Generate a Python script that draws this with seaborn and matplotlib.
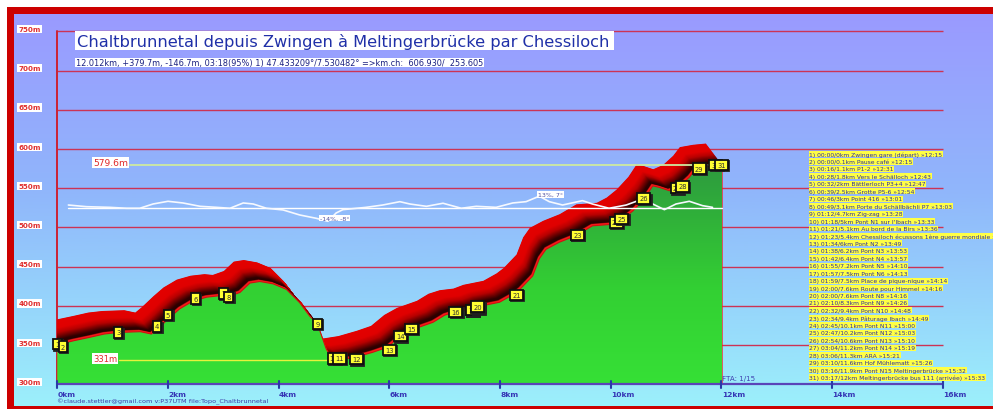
import numpy as np
import matplotlib
matplotlib.use("Agg")
import matplotlib.pyplot as plt
import seaborn as sns
from matplotlib.colors import LinearSegmentedColormap, to_rgb
from matplotlib.patches import Rectangle
from matplotlib.transforms import offset_copy

sns.set_style("white")
plt.rcParams['font.family'] = ['DejaVu Sans']

# ---------------- data ----------------
profile_km = [0.00, 0.10, 0.30, 0.60, 0.85, 1.10, 1.50, 1.70, 1.82, 2.03, 2.21, 2.45, 2.70,
              2.95, 3.10, 3.30, 3.48, 3.66, 3.90, 4.14, 4.38, 4.56, 4.70, 4.86, 4.95, 5.10,
              5.37, 5.70, 5.96, 6.20, 6.43, 6.79, 7.00, 7.20, 7.45, 7.63, 7.99, 8.23, 8.36,
              8.59, 8.71, 8.83, 9.07, 9.37, 9.67, 10.04, 10.22, 10.40, 10.61, 10.76, 10.88,
              11.06, 11.24, 11.42, 11.54, 11.78, 12.012]
profile_elev = [351, 352, 355.5, 360, 364, 366, 367, 364, 371, 385, 396, 406, 411,
                413, 412, 417, 429, 431, 428, 421, 404, 387, 377, 345, 334, 331,
                334, 340.7, 347, 361, 370, 379, 388, 392.5, 394.6, 399.4, 404.5, 414, 421,
                438, 460, 472, 481, 489.5, 502, 504, 510.7, 521, 537, 553, 551,
                546.8, 552.4, 564, 575, 578, 579.6]

slope_km = [0.2, 0.53, 0.95, 1.25, 1.49, 1.73, 2.0, 2.27, 2.58, 2.88, 3.12, 3.36, 3.54, 3.78,
            4.08, 4.38, 4.68, 4.89, 5.04, 5.16, 5.58, 5.88, 6.19, 6.37, 6.67, 6.97, 7.3, 7.57,
            7.93, 8.23, 8.47, 8.71, 8.89, 9.13, 9.49, 9.67, 9.97, 10.28, 10.58, 10.76, 10.97,
            11.18, 11.42, 11.66, 11.84]
slope_pct = [3.5, 1.7, 1, 0, 0, 4.6, 7.5, 5.7, 2.1, 1, 0, 5.7, 4.6, 0,
             -1.8, -7.2, -10.8, -14, -5, -1.5, 1, 3.5, 7.1, 4.6, 2.1, 5.4, 0, 2.1,
             1, 5.7, 7.1, 13, 7.1, 3.5, 8.2, 4.6, 0, 3.5, 10, 4.6, -1.5,
             4.6, 7.5, 2.8, 1]

wp_num = list(range(1, 32))
wp_km = [0, 0.1, 1.1, 1.8, 2, 2.5, 3, 3.1, 4.7, 5, 5.1, 5.4, 6, 6.2, 6.4, 7.2, 7.5, 7.5,
         7.6, 7.6, 8.3, 9.4, 9.4, 10.1, 10.2, 10.6, 11.2, 11.3, 11.6, 11.9, 12.0]
wp_elev = [351, 348, 366, 373.6, 388.5, 409.3, 415.7, 411.2, 376.8, 333, 333, 332, 343.6,
           361.3, 370.4, 392.5, 394.6, 394.6, 397, 399, 414, 490.5, 490.5, 506.3, 510.7,
           536.9, 550, 552.2, 575.1, 579.8, 579.8]

legend_lines = [
    "1) 00:00/0km Zwingen gare (départ) »12:15",
    "2) 00:00/0.1km Pause café »12:15",
    "3) 00:16/1.1km P1-2 »12:31",
    "4) 00:28/1.8km Vers le Schälloch »12:43",
    "5) 00:32/2km Bättlerloch P3+4 »12:47",
    "6) 00:39/2.5km Grotte P5-6 »12:54",
    "7) 00:46/3km Point 416 »13:01",
    "8) 00:49/3.1km Porte du Schällbächli P7 »13:03",
    "9) 01:12/4.7km Zig-zag »13:28",
    "10) 01:18/5km Pont N1 sur l'Ibach »13:33",
    "11) 01:21/5.1km Au bord de la Birs »13:36",
    "12) 01:23/5.4km Chessiloch écussons 1ère guerre mondiale »13:38",
    "13) 01:34/6km Pont N2 »13:49",
    "14) 01:38/6.2km Pont N3 »13:53",
    "15) 01:42/6.4km Pont N4 »13:57",
    "16) 01:55/7.2km Pont N5 »14:10",
    "17) 01:57/7.5km Pont N6 »14:13",
    "18) 01:59/7.5km Place de pique-nique »14:14",
    "19) 02:00/7.6km Route pour Himmel »14:16",
    "20) 02:00/7.6km Pont N8 »14:16",
    "21) 02:10/8.3km Pont N9 »14:26",
    "22) 02:32/9.4km Pont N10 »14:48",
    "23) 02:34/9.4km Pâturage Ibach »14:49",
    "24) 02:45/10.1km Pont N11 »15:00",
    "25) 02:47/10.2km Pont N12 »15:03",
    "26) 02:54/10.6km Pont N13 »15:10",
    "27) 03:04/11.2km Pont N14 »15:19",
    "28) 03:06/11.3km ARA »15:21",
    "29) 03:10/11.6km Hof Mühlematt »15:26",
    "30) 03:16/11.9km Pont N15 Meltingerbrücke »15:32",
    "31) 03:17/12km Meltingerbrücke bus 111 (arrivée) »15:33",
]

y_ticks = [300, 350, 400, 450, 500, 550, 600, 650, 700, 750]
y_tick_labels = [f"{v}m" for v in y_ticks]
x_ticks = [0, 2, 4, 6, 8, 10, 12, 14, 16]
x_tick_labels = [f"{v}km" for v in x_ticks]

title = "Chaltbrunnetal depuis Zwingen à Meltingerbrücke par Chessiloch"
subtitle = "12.012km, +379.7m, -146.7m, 03:18(95%) 1) 47.433209°/7.530482° =>km.ch:  606.930/  253.605"
credit = "©claude.stettler@gmail.com v:P37UTM file:Topo_Chaltbrunnetal"
max_label = "579.6m"
min_label = "331m"

# ---------------- geometry ----------------
W, H = 993, 410
X0, PXKM = 57.3, 55.34
Y600, PXM = 150.0, 0.784


def kx(k):
    return X0 + k * PXKM


def my(m):
    return Y600 + (600 - m) * PXM


fig = plt.figure(figsize=(W / 100, H / 100), dpi=100)
fig.patch.set_facecolor('white')

# background gradient + red frame
bg = fig.add_axes([0, 0, 1, 1], zorder=0)
ys = np.linspace(0, 1, 300)[:, None]
c_top = np.array(to_rgb('#9a9aff'))
c_mid = np.array(to_rgb('#90b6fb'))
c_bot = np.array(to_rgb('#9cf0fb'))
grad = np.where(ys < 0.45, c_top + (c_mid - c_top) * (ys / 0.45),
                c_mid + (c_bot - c_mid) * ((ys - 0.45) / 0.55))
bg.imshow(grad[:, None, :], extent=[14, W, 407, 15], aspect='auto', interpolation='bilinear')
bg.set_xlim(0, W)
bg.set_ylim(H, 0)
bg.axis('off')
red = '#cc0000'
bg.add_patch(Rectangle((7, 8), W - 7, 7, fc=red, ec='none'))
bg.add_patch(Rectangle((7, 8), 7, H - 8, fc=red, ec='none'))
bg.add_patch(Rectangle((7, 407), W - 7, 3, fc=red, ec='none'))

# main data axes
ax = fig.add_axes([X0 / W, (H - my(300)) / H, (W - X0) / W, my(300) / H], zorder=1)
ax.patch.set_alpha(0)
XMAX = (W - X0) / PXKM
YMAX = 300 + my(300) / PXM

# grid
for v in y_ticks[1:]:
    ax.plot([0, 16], [v, v], color='#cc3355', lw=1.0, zorder=1, solid_capstyle='butt')
ax.plot([0, 0], [300, 750], color='#cc2233', lw=1.4, zorder=1, clip_on=False)

km = np.array(profile_km)
el = np.array(profile_elev)

# extruded red ribbon
band_cmap = LinearSegmentedColormap.from_list(
    'band', [(0, '#ff1a1a'), (0.09, '#ff1a1a'), (0.13, '#2a0000'), (0.22, '#300000'),
             (0.5, '#b80000'), (0.68, '#e00000'), (1, '#e30000')])
N = 60
dx, dy = 0.30, 28.0
for i in range(N, -1, -1):
    t = i / N
    ax.fill_between(km - t * dx, el + t * dy, 300, color=band_cmap(t), lw=0, zorder=2)

# green gradient fill
poly = ax.fill_between(km, el, 300, facecolor='none', edgecolor='none', zorder=3)
ge = np.linspace(300, 600, 200)
gstops_e = [300, 420, 600]
gstops_c = [to_rgb('#36e036'), to_rgb('#33d033'), to_rgb('#2d9340')]
gcol = np.stack([np.interp(ge, gstops_e, [c[j] for c in gstops_c]) for j in range(3)], axis=1)
gimg = ax.imshow(gcol[:, None, :], extent=[0, km[-1], 300, 600], origin='lower',
                 aspect='auto', zorder=4, interpolation='bilinear')
gimg.set_clip_path(poly.get_paths()[0], transform=ax.transData)

sns.lineplot(x=km, y=el, ax=ax, color='#d01010', lw=0.8, zorder=4.5, sort=False, estimator=None)

# min / max lines
imax, imin = int(np.argmax(el)), int(np.argmin(el))
ax.plot([(129.5 - X0) / PXKM, km[imax]], [el[imax]] * 2, color='#cdeaa0', lw=1.3, zorder=5)
ax.plot([(118.5 - X0) / PXKM, km[imin]], [el[imin]] * 2, color='#e6f23c', lw=1.0, zorder=5)

# slope curve
base, sc = 524.4, 1.186
ax.plot([0.2, km[-1]], [base, base], color='white', lw=1.0, zorder=6)
sns.lineplot(x=slope_km, y=base + np.array(slope_pct) * sc, ax=ax, color='#f6f9ff', lw=1.2,
             zorder=6, sort=False, estimator=None)
ax.text(4.75, 512, "-14%, -8°", fontsize=4.5, color='#5050a0', va='center', ha='left',
        bbox=dict(fc='white', ec='none', pad=0.6), zorder=7)
ax.text(8.69, 541.7, "13%, 7°", fontsize=4.5, color='#5050a0', va='center', ha='left',
        bbox=dict(fc='white', ec='none', pad=0.6), zorder=7)

# waypoint boxes
shadow_tr = offset_copy(ax.transData, fig=fig, x=1.3, y=-1.3, units='dots')
for n, k, e in zip(wp_num, wp_km, wp_elev):
    z = 8 + n * 0.02
    ax.text(k, e, str(n), transform=shadow_tr, ha='center', va='center', fontsize=4.9,
            color='#202020', bbox=dict(boxstyle='square,pad=0.32', fc='#202020', ec='#202020', lw=1.3),
            zorder=z)
    ax.text(k, e, str(n), ha='center', va='center', fontsize=4.9, color='#303030',
            bbox=dict(boxstyle='square,pad=0.32', fc='#ffff33', ec='#101010', lw=1.3), zorder=z + 0.01)

ax.set_xlim(0, XMAX)
ax.set_ylim(300, YMAX)
ax.axis('off')

# overlay in pixel coordinates
ov = fig.add_axes([0, 0, 1, 1], zorder=10)
ov.set_xlim(0, W)
ov.set_ylim(H, 0)
ov.axis('off')
ov.patch.set_alpha(0)

# x axis line + ticks
ov.plot([kx(0), kx(16)], [my(300)] * 2, color='#5a44b8', lw=1.6, solid_capstyle='butt')
for v, lab in zip(x_ticks, x_tick_labels):
    ov.plot([kx(v)] * 2, [381.5, 389], color='#2a3aa8', lw=1.5)
    ov.text(kx(v) + 0.5, 394.8, lab, ha='left', va='center', fontsize=5.4, fontweight='bold',
            color='#3535b5')

for v, lab in zip(y_ticks, y_tick_labels):
    ov.text(29.5, my(v) - 2.3, lab, ha='center', va='center', fontsize=5.1, fontweight='bold',
            color='#e03030', bbox=dict(fc='white', ec='none', pad=0.8))

# title & subtitle
ov.add_patch(Rectangle((75, 32), 539, 18.5, fc='white', ec='none'))
t_title = ov.text(77.3, 41.5, title, ha='left', va='center', fontsize=11, color='#2030a8')
ov.add_patch(Rectangle((75, 58.5), 409, 9.5, fc='white', ec='none'))
t_sub = ov.text(76.5, 63.4, subtitle, ha='left', va='center', fontsize=5.5, color='#1a2080')

t_max = ov.text(93, 163.5, max_label, ha='left', va='center', fontsize=7, color='#e02828',
                bbox=dict(fc='white', ec='none', pad=0.8))
t_min = ov.text(93, 359.3, min_label, ha='left', va='center', fontsize=7, color='#e02828',
                bbox=dict(fc='white', ec='none', pad=0.8))

t_cred = ov.text(57.3, 402.3, credit, ha='left', va='center', fontsize=4.3, color='#3a3aa8')
t_fta = ov.text(722.5, 379.5, "FTA: 1/15", ha='left', va='center', fontsize=4.5, color='#4040b0')

leg_texts = []
for i, line in enumerate(legend_lines):
    leg_texts.append(ov.text(809.3, 155 + i * 7.45, line, ha='left', va='center', fontsize=4.4,
                             color='#2d2d9e', bbox=dict(fc='#ffff44', ec='none', pad=0.35)))

# fit text widths to reference
fig.canvas.draw()
r = fig.canvas.get_renderer()


def fit(t, w):
    bb = t.get_window_extent(r)
    t.set_fontsize(t.get_fontsize() * w / bb.width)


fit(t_title, 533)
fit(t_sub, 405)
fit(t_max, 35)
fit(t_min, 24)
fit(t_cred, 211)
fit(t_fta, 33)
bb = leg_texts[0].get_window_extent(r)
fs = leg_texts[0].get_fontsize() * 133.4 / bb.width
for t in leg_texts:
    t.set_fontsize(fs)

fig.savefig("out.png", dpi=100)
